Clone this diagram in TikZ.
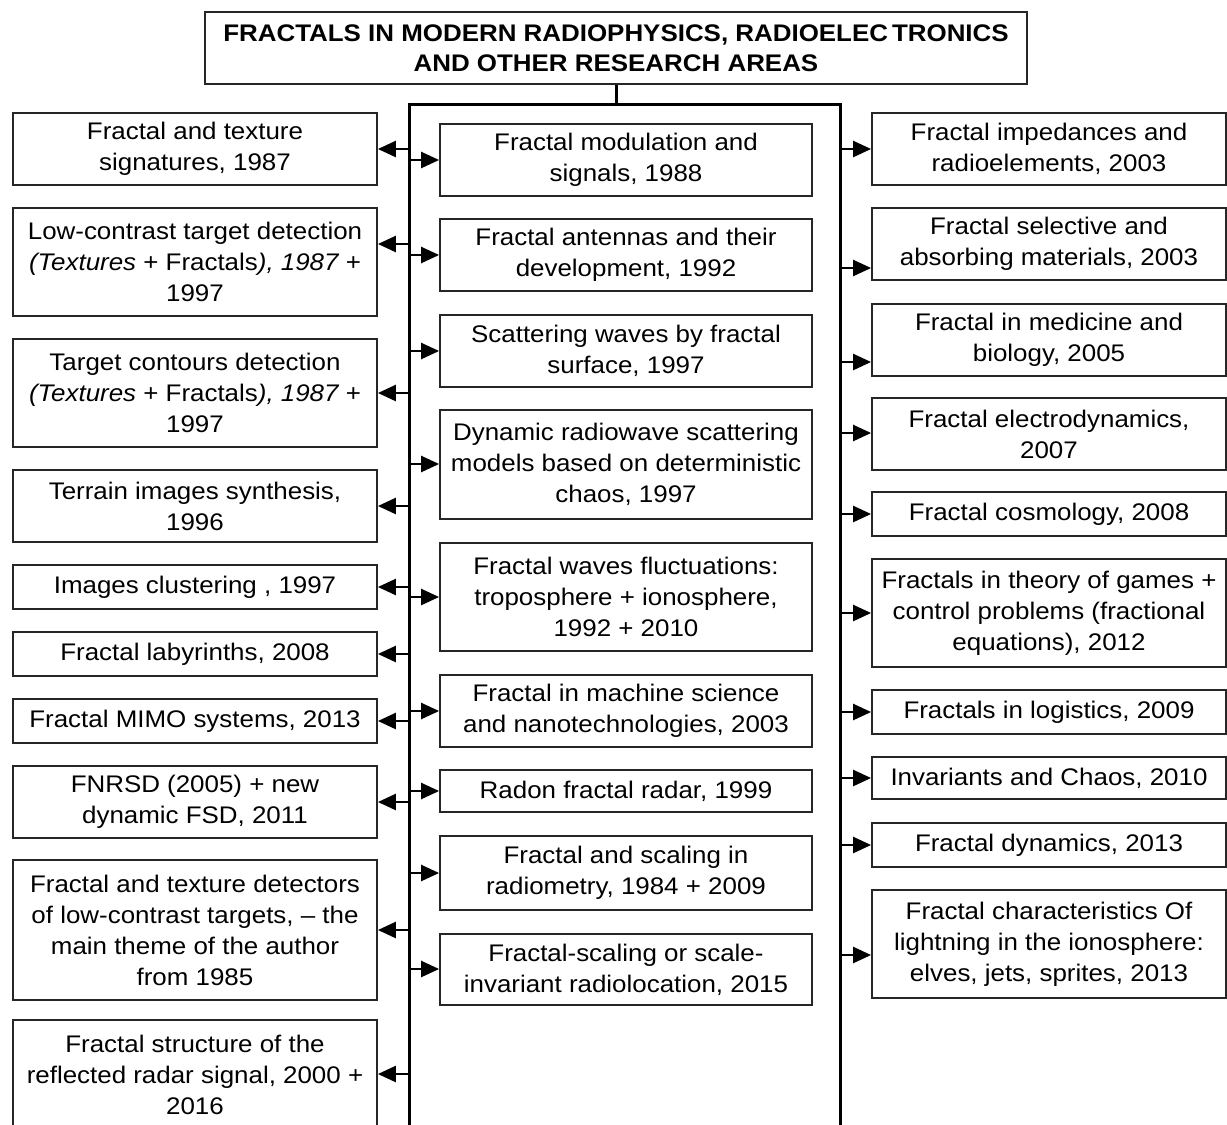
\documentclass[tikz,border=0pt]{standalone}
\usepackage{fontspec}
\setmainfont{Liberation Sans}[FakeStretch=1.08]
\usetikzlibrary{arrows.meta}
\tikzset{
  box/.style={draw=black!85, line width=1.8pt, align=center, inner sep=0pt,
    font=\fontsize{24}{31}\selectfont},
  titlebox/.style={box, font=\fontsize{24}{30}\selectfont\bfseries},
  bus/.style={line width=3pt, black},
  arr/.style={line width=2.4pt, -{Triangle[length=18pt,width=16pt]}},
}
\newcommand\mybox[7][box]{%
  \pgfmathsetmacro\myW{#5-#3}\pgfmathsetmacro\myH{#6-#4}%
  \pgfmathsetmacro\myX{(#3+#5)/2}\pgfmathsetmacro\myY{(#4+#6)/2}%
  \node[#1, minimum width=\myW pt, minimum height=\myH pt] (#2) at (\myX,\myY) {#7};}
\begin{document}
\begin{tikzpicture}[x=1pt,y=-1pt]
\useasboundingbox (0,0) rectangle (1227,1125);
\clip (0,0) rectangle (1227,1125);
% title
\mybox[titlebox]{title}{205}{12}{1027}{84}{FRACTALS IN MODERN RADIOPHYSICS, RADIOELEC\,TRONICS\\AND OTHER RESEARCH AREAS}
% left column
\mybox{L1}{13}{113}{377}{185}{Fractal and texture\\signatures, 1987}
\mybox{L2}{13}{208}{377}{316}{Low-contrast target detection\\{\itshape (Textures} + Fractals{\itshape ), 1987} +\\1997}
\mybox{L3}{13}{339}{377}{447}{Target contours detection\\{\itshape (Textures} + Fractals{\itshape ), 1987} +\\1997}
\mybox{L4}{13}{470}{377}{542}{Terrain images synthesis,\\1996}
\mybox{L5}{13}{565}{377}{609}{Images clustering , 1997}
\mybox{L6}{13}{632}{377}{676}{Fractal labyrinths, 2008}
\mybox{L7}{13}{699}{377}{743}{Fractal MIMO systems, 2013}
\mybox{L8}{13}{766}{377}{838}{FNRSD (2005) + new\\dynamic FSD, 2011}
\mybox{L9}{13}{860}{377}{1000}{Fractal and texture detectors\\of low-contrast targets, -- the\\main theme of the author\\from 1985}
\mybox{L10}{13}{1020}{377}{1129}{Fractal structure of the\\reflected radar signal, 2000 +\\2016}
% middle column
\mybox{M1}{440}{124}{812}{196}{Fractal modulation and\\signals, 1988}
\mybox{M2}{440}{219}{812}{291}{Fractal antennas and their\\development, 1992}
\mybox{M3}{440}{315}{812}{387}{Scattering waves by fractal\\surface, 1997}
\mybox{M4}{440}{410}{812}{519}{Dynamic radiowave scattering\\models based on deterministic\\chaos, 1997}
\mybox{M5}{440}{543}{812}{651}{Fractal waves fluctuations:\\troposphere + ionosphere,\\1992 + 2010}
\mybox{M6}{440}{675}{812}{747}{Fractal in machine science\\and nanotechnologies, 2003}
\mybox{M7}{440}{770}{812}{812}{Radon fractal radar, 1999}
\mybox{M8}{440}{836}{812}{910}{Fractal and scaling in\\radiometry, 1984 + 2009}
\mybox{M9}{440}{934}{812}{1005}{Fractal-scaling or scale-\\invariant radiolocation, 2015}
% right column
\mybox{R1}{872}{113}{1226}{185}{Fractal impedances and\\radioelements, 2003}
\mybox{R2}{872}{208}{1226}{280}{Fractal selective and\\absorbing materials, 2003}
\mybox{R3}{872}{304}{1226}{376}{Fractal in medicine and\\biology, 2005}
\mybox{R4}{872}{398}{1226}{470}{Fractal electrodynamics,\\2007}
\mybox{R5}{872}{492}{1226}{536}{Fractal cosmology, 2008}
\mybox{R6}{872}{559}{1226}{667}{Fractals in theory of games +\\control problems (fractional\\equations), 2012}
\mybox{R7}{872}{690}{1226}{734}{Fractals in logistics, 2009}
\mybox{R8}{872}{757}{1226}{799}{Invariants and Chaos, 2010}
\mybox{R9}{872}{823}{1226}{867}{Fractal dynamics, 2013}
\mybox{R10}{872}{890}{1226}{998}{Fractal characteristics Of\\lightning in the ionosphere:\\elves, jets, sprites, 2013}
% buses
\coordinate (busLT) at (409,104);
\coordinate (busRT) at (840,104);
\coordinate (busLB) at (409,1130);
\coordinate (busRB) at (840,1130);
\draw[bus] (title.south) -- (title.south |- busLT);
\draw[bus] (busLB) -- (busLT) -- (busRT) -- (busRB);
% arrows to left column
\foreach \n/\y in {L1/149,L2/244,L3/393,L4/506,L5/587,L6/654,L7/721,L8/802,L9/930,L10/1074}{
  \coordinate (a\n) at (409,\y);
  \draw[arr] (a\n) -- (a\n -| \n.east);
}
% arrows to middle column
\foreach \n/\y in {M1/160,M2/255,M3/351,M4/464,M5/597,M6/711,M7/791,M8/873,M9/969}{
  \coordinate (a\n) at (409,\y);
  \draw[arr] (a\n) -- (a\n -| \n.west);
}
% arrows to right column
\foreach \n/\y in {R1/149,R2/268,R3/362,R4/433,R5/514,R6/613,R7/712,R8/778,R9/845,R10/955}{
  \coordinate (a\n) at (840,\y);
  \draw[arr] (a\n) -- (a\n -| \n.west);
}
\end{tikzpicture}
\end{document}
